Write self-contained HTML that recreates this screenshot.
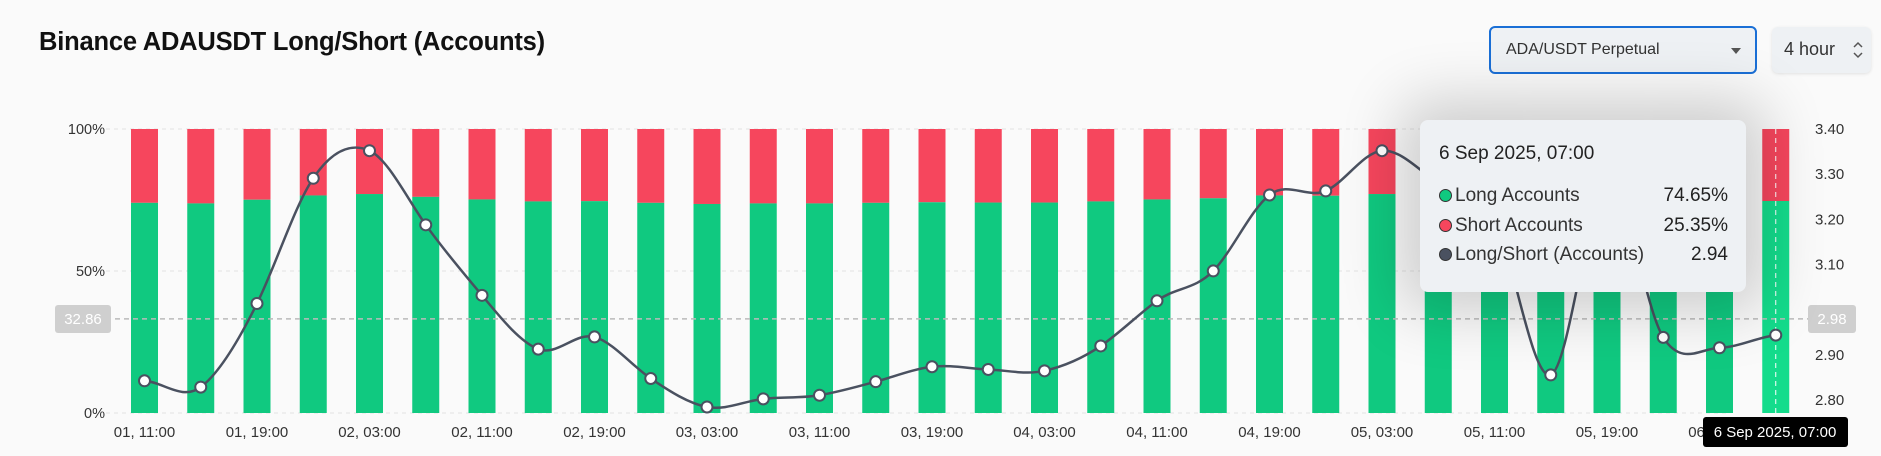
<!DOCTYPE html>
<html><head><meta charset="utf-8"><style>
body{margin:0;background:#fafafa;font-family:"Liberation Sans",sans-serif;}
#wrap{position:relative;width:1881px;height:456px;overflow:hidden;background:#fafafa;}
.title{position:absolute;left:39px;top:28px;font-size:25.5px;font-weight:bold;color:#111;letter-spacing:-0.2px;}
.sel{position:absolute;left:1489px;top:26px;width:264px;height:44px;border:2px solid #1a6fd6;border-radius:6px;background:#eef1f4;box-sizing:content-box;}
.sel span{position:absolute;left:15px;top:13px;font-size:16px;color:#333;}
.sel i{position:absolute;right:14px;top:20px;width:0;height:0;border-left:5px solid transparent;border-right:5px solid transparent;border-top:6px solid #555;}
.per{position:absolute;left:1772px;top:27px;width:99px;height:46px;border-radius:6px;background:#eef1f4;box-shadow:0 1px 3px rgba(0,0,0,.1);}
.per span{position:absolute;left:12px;top:12px;font-size:18px;color:#333;}
.tip{position:absolute;left:1420px;top:120px;width:326px;height:172px;background:#eef1f4;border-radius:8px;box-shadow:0 0 60px 20px rgba(0,0,0,0.18);}
.tip .h{position:absolute;left:19px;top:23px;font-size:19px;color:#222;}
.row{position:absolute;left:19px;width:289px;font-size:19px;color:#333;}
.row b{font-weight:normal;position:absolute;right:0;top:0;color:#222;}
.dot{display:inline-block;width:13px;height:13px;border-radius:50%;border:1.5px solid #333;margin-right:3px;vertical-align:-1px;box-sizing:border-box;}
</style></head><body>
<div id="wrap">
<div class="title">Binance ADAUSDT Long/Short (Accounts)</div>
<div class="sel"><span>ADA/USDT Perpetual</span><i></i></div>
<div class="per"><span>4 hour</span><svg style="position:absolute;right:8px;top:14px" width="10" height="18"><path d="M1 6 L5 2 L9 6 M1 12 L5 16 L9 12" fill="none" stroke="#555" stroke-width="1.5"/></svg></div>
<svg id="chart" width="1881" height="456" style="position:absolute;left:0;top:0"></svg>
<div class="tip">
<div class="h">6 Sep 2025, 07:00</div>
<div class="row" style="top:65px"><span class="dot" style="background:#10c980"></span>Long Accounts<b>74.65%</b></div>
<div class="row" style="top:95px"><span class="dot" style="background:#f6465d"></span>Short Accounts<b>25.35%</b></div>
<div class="row" style="top:124px"><span class="dot" style="background:#4a5160"></span>Long/Short (Accounts)<b>2.94</b></div>
</div>
</div>
<script>
const longPct=[74.0,73.8,75.1,76.6,77.1,76.1,75.2,74.5,74.6,74.0,73.6,73.8,73.8,74.0,74.2,74.1,74.1,74.5,75.2,75.6,76.6,76.5,77.1,76.0,75.5,75.0,74.6,74.5,74.6,74.65];
const ratio=[2.843,2.829,3.014,3.291,3.352,3.188,3.032,2.913,2.940,2.848,2.785,2.803,2.811,2.841,2.874,2.868,2.865,2.920,3.020,3.086,3.254,3.263,3.352,3.28,3.20,2.856,3.28,2.939,2.916,2.944];
const xLabels=["01, 11:00","01, 19:00","02, 03:00","02, 11:00","02, 19:00","03, 03:00","03, 11:00","03, 19:00","04, 03:00","04, 11:00","04, 19:00","05, 03:00","05, 11:00","05, 19:00","06, 03:00"];
const leftTicks=[0,50,100];
const rightTicks=[2.80,2.90,3.00,3.10,3.20,3.30,3.40];
const NS="http://www.w3.org/2000/svg";
const svg=document.getElementById('chart');
const x=i=>144.5+56.25*i;
const yL=p=>413-p*2.84;
const yR=v=>129+(3.40-v)*452;
function mk(t,a,p){const e=document.createElementNS(NS,t);for(const k in a)e.setAttribute(k,a[k]);(p||svg).appendChild(e);return e;}
leftTicks.forEach(t=>{
 const g=mk('line',{x1:106,x2:1730,y1:yL(t),y2:yL(t),stroke:'#e2e2e2','stroke-dasharray':'4 4'});
 
 
 const l=mk('text',{x:105,y:yL(t)+5,'text-anchor':'end','font-size':14.5,fill:'#333'});l.textContent=t+'%';
 
 
});
rightTicks.forEach(t=>{
 const l=mk('text',{x:1815,y:yR(t)+5,'font-size':15,fill:'#333'});l.textContent=t.toFixed(2);
 
 
});
longPct.forEach((p,i)=>{
 const w=27,last=i===longPct.length-1;
 const r=mk('rect',{x:x(i)-w/2,y:yL(100),width:w,height:yL(p)-yL(100),fill:'#f6465d'});
 
 
 const g=mk('rect',{x:x(i)-w/2,y:yL(p),width:w,height:yL(0)-yL(p),fill:last?'#14dc8c':'#10c980'});
 
 
});
mk('line',{x1:106,x2:1808,y1:yR(2.98),y2:yR(2.98),stroke:'#bbb','stroke-dasharray':'5 4','stroke-width':1.5});
mk('line',{x1:x(29),x2:x(29),y1:yL(100),y2:yL(0),stroke:'#fff','stroke-dasharray':'5 4'});
let d='M'+x(0)+','+yR(ratio[0]);
for(let i=0;i<ratio.length-1;i++){
 const p0=ratio[Math.max(i-1,0)],p1=ratio[i],p2=ratio[i+1],p3=ratio[Math.min(i+2,ratio.length-1)];
 const t=0.18;
 const c1x=x(i)+56.25*0.33,c1y=yR(p1)+(yR(p2)-yR(p0))*t;
 const c2x=x(i+1)-56.25*0.33,c2y=yR(p2)-(yR(p3)-yR(p1))*t;
 d+=` C${c1x},${c1y} ${c2x},${c2y} ${x(i+1)},${yR(p2)}`;
}
const ln=mk('path',{d:d,fill:'none',stroke:'#4a5160','stroke-width':2.5});


ratio.forEach((v,i)=>{
 const c=mk('circle',{cx:x(i),cy:yR(v),r:5.5,fill:'#fff',stroke:'#4a5160','stroke-width':2});
 
 
});
xLabels.forEach((s,k)=>{
 const l=mk('text',{x:x(k*2),y:437,'text-anchor':'middle','font-size':15,fill:'#333'});l.textContent=s;
 
 
});
mk('rect',{x:55,y:305,width:56,height:28,rx:3,fill:'#cfcfcf'});
const a=mk('text',{x:83,y:324,'text-anchor':'middle','font-size':15,fill:'#fff'});a.textContent='32.86';


mk('rect',{x:1808,y:305,width:48,height:28,rx:3,fill:'#cfcfcf'});
const b=mk('text',{x:1832,y:324,'text-anchor':'middle','font-size':15,fill:'#fff'});b.textContent='2.98';


mk('rect',{x:1703,y:417,width:145,height:30,rx:3,fill:'#000'});
const c=mk('text',{x:1775,y:437,'text-anchor':'middle','font-size':15,fill:'#fff'});c.textContent='6 Sep 2025, 07:00';


</script>
</body></html>
